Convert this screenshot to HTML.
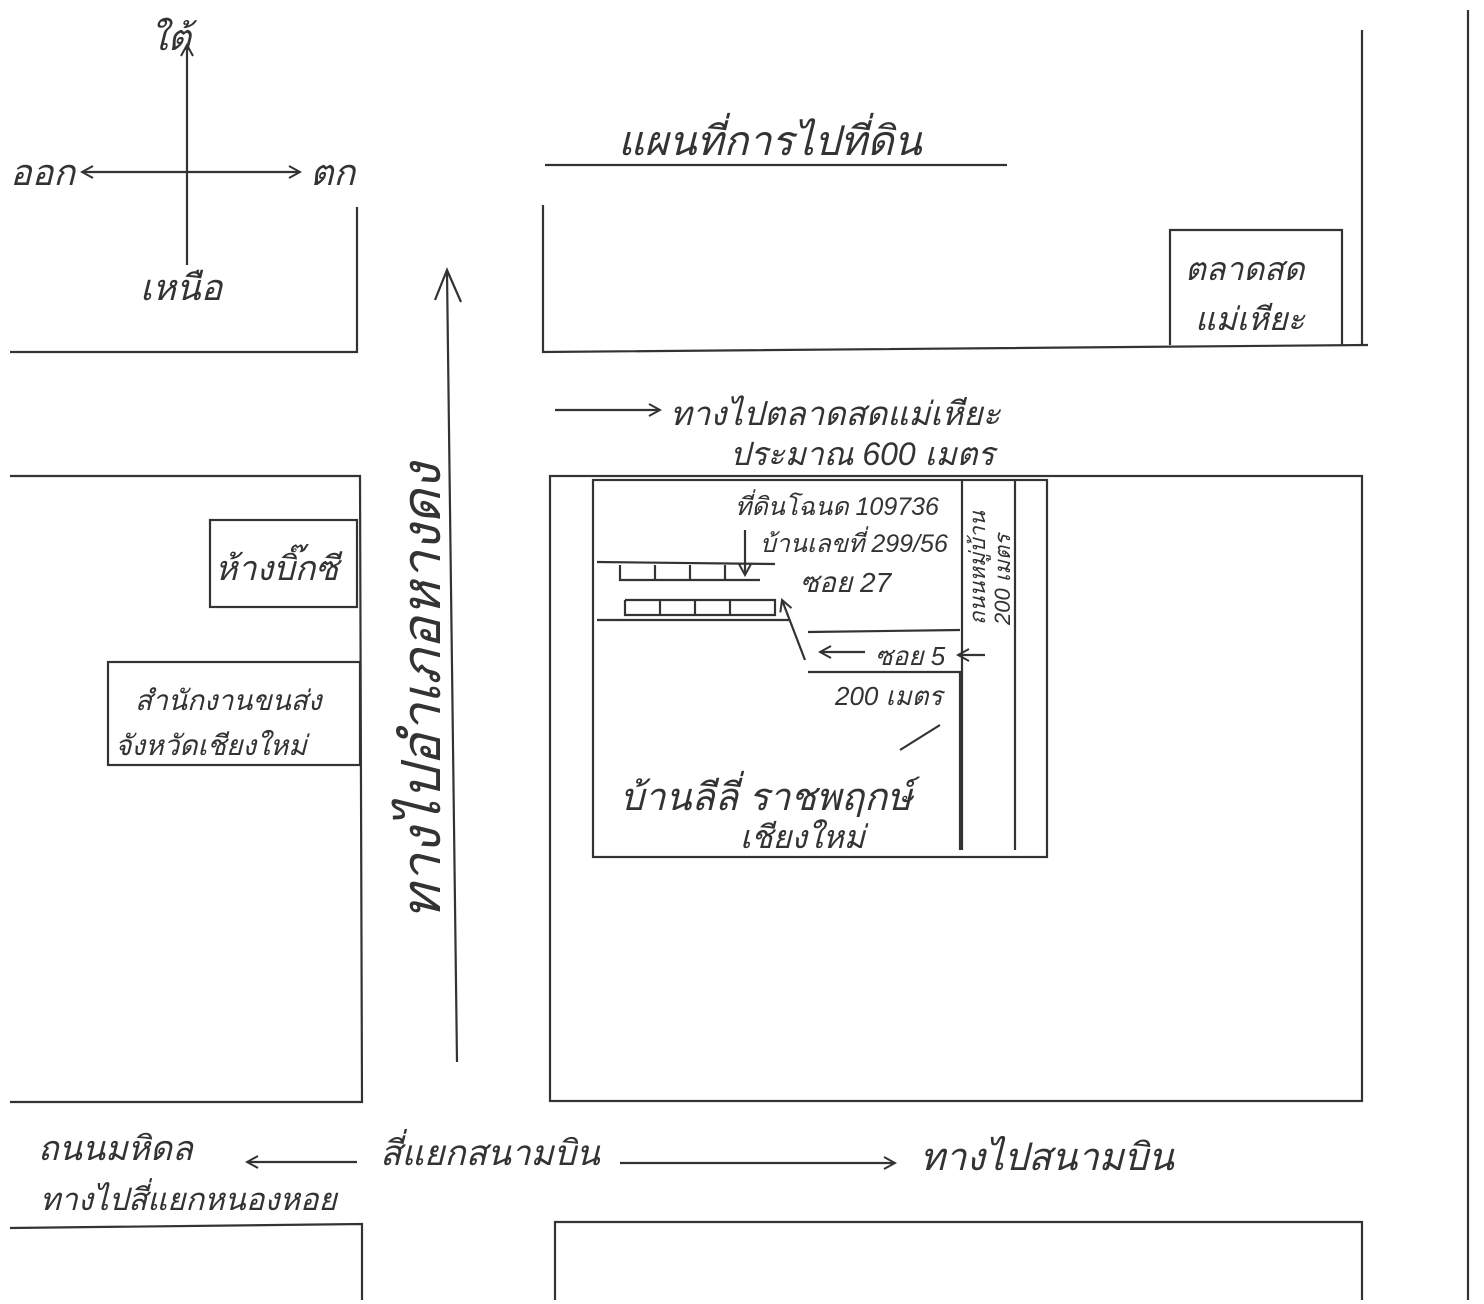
<!DOCTYPE html>
<html><head><meta charset="utf-8"><style>
html,body{margin:0;padding:0;background:#fff}
svg{display:block}
text{font-family:"Liberation Sans","DejaVu Sans",sans-serif;fill:#333;font-style:italic}
</style></head><body>
<svg width="1484" height="1304" viewBox="0 0 1484 1304" xmlns="http://www.w3.org/2000/svg">
<defs>
<marker id="a" markerWidth="14" markerHeight="14" refX="12" refY="7" orient="auto" markerUnits="userSpaceOnUse"><path d="M1,1 L12,7 L1,13" fill="none" stroke="#333" stroke-width="2"/></marker>
</defs>
<g stroke="#333" stroke-width="2.2" fill="none">
<line x1="187" y1="265" x2="187" y2="45" marker-end="url(#a)"/>
<line x1="190" y1="172" x2="82" y2="172" marker-end="url(#a)"/>
<line x1="190" y1="172" x2="300" y2="172" marker-end="url(#a)"/>
<polyline points="357,207 357,352 10,352"/>
<line x1="545" y1="165" x2="1007" y2="165"/>
<polyline points="543,205 543,352 1368,345"/>
<line x1="1362" y1="30" x2="1362" y2="345"/>
<polyline points="1170,345 1170,230 1342,230 1342,345"/>
<line x1="1468" y1="10" x2="1468" y2="1300"/>
<line x1="457" y1="1062" x2="447" y2="272"/>
<polyline points="435,300 447,270 461,302"/>
<polyline points="10,476 360,476 362,1102 10,1102"/>
<rect x="210" y="520" width="147" height="87"/>
<rect x="108" y="662" width="252" height="103"/>
<rect x="550" y="476" width="812" height="625"/>
<rect x="593" y="480" width="454" height="377"/>
<line x1="962" y1="480" x2="962" y2="850"/>
<line x1="1015" y1="480" x2="1015" y2="850"/>
<line x1="597" y1="562" x2="775" y2="564"/>
<line x1="597" y1="620" x2="790" y2="620"/>
<polyline points="620,565 620,580 760,580"/>
<polyline points="625,600 625,615 775,615 775,600 625,600"/>
<line x1="655" y1="565" x2="655" y2="580"/><line x1="690" y1="565" x2="690" y2="580"/><line x1="725" y1="565" x2="725" y2="580"/>
<line x1="660" y1="600" x2="660" y2="615"/><line x1="695" y1="600" x2="695" y2="615"/><line x1="730" y1="600" x2="730" y2="615"/>
<line x1="745" y1="530" x2="745" y2="575" marker-end="url(#a)"/>
<polyline points="960,630 808,632"/>
<polyline points="808,672 960,672 960,850"/>
<polyline points="805,660 782,600" marker-end="url(#a)"/>
<line x1="865" y1="652" x2="820" y2="652" marker-end="url(#a)"/>
<line x1="985" y1="655" x2="958" y2="655" marker-end="url(#a)"/>
<line x1="900" y1="750" x2="940" y2="725"/>
<line x1="555" y1="410" x2="660" y2="410" marker-end="url(#a)"/>
<line x1="357" y1="1162" x2="247" y2="1162" marker-end="url(#a)"/>
<line x1="620" y1="1163" x2="895" y2="1163" marker-end="url(#a)"/>
<polyline points="10,1228 362,1224 362,1300"/>
<polyline points="555,1300 555,1222 1362,1222 1362,1300"/>
</g>
<text x="150" y="50" font-size="36">ใต้</text>
<text x="10" y="185" font-size="36">ออก</text>
<text x="310" y="185" font-size="36">ตก</text>
<text x="140" y="300" font-size="36">เหนือ</text>
<text x="618" y="155" font-size="41">แผนที่การไปที่ดิน</text>
<text x="1185" y="280" font-size="32">ตลาดสด</text>
<text x="1195" y="330" font-size="32">แม่เหียะ</text>
<text x="670" y="425" font-size="33">ทางไปตลาดสดแม่เหียะ</text>
<text x="730" y="465" font-size="32">ประมาณ 600 เมตร</text>
<text x="215" y="580" font-size="34">ห้างบิ๊กซี</text>
<text x="135" y="710" font-size="28">สำนักงานขนส่ง</text>
<text x="115" y="755" font-size="28">จังหวัดเชียงใหม่</text>
<text transform="translate(440,920) rotate(-90)" font-size="54">ทางไปอำเภอหางดง</text>
<text x="735" y="515" font-size="25">ที่ดินโฉนด 109736</text>
<text x="760" y="552" font-size="25">บ้านเลขที่ 299/56</text>
<text x="800" y="592" font-size="28">ซอย 27</text>
<text x="875" y="665" font-size="26">ซอย 5</text>
<text x="835" y="705" font-size="26">200 เมตร</text>
<text transform="translate(985,625) rotate(-90)" font-size="22">ถนนหมู่บ้าน</text>
<text transform="translate(1010,625) rotate(-90)" font-size="22">200 เมตร</text>
<text x="620" y="810" font-size="38">บ้านลีลี่ ราชพฤกษ์</text>
<text x="740" y="848" font-size="32">เชียงใหม่</text>
<text x="38" y="1160" font-size="34">ถนนมหิดล</text>
<text x="40" y="1210" font-size="31">ทางไปสี่แยกหนองหอย</text>
<text x="380" y="1165" font-size="35">สี่แยกสนามบิน</text>
<text x="920" y="1170" font-size="38">ทางไปสนามบิน</text>
</svg>
</body></html>
